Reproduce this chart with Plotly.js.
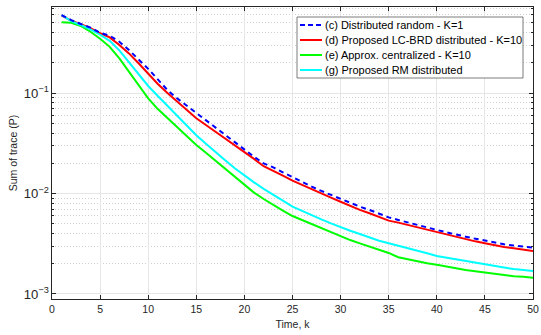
<!DOCTYPE html>
<html>
<head>
<meta charset="utf-8">
<script src="https://cdn.plot.ly/plotly-3.0.1.min.js"></script>
<style>html,body{margin:0;padding:0;background:#fff;}#chart{width:541px;height:335px;}</style>
</head>
<body>
<div id="chart"></div>
<script>
var timeK = [];
for (var i = 1; i <= 50; i++) timeK.push(i);

var distRandom = [0.597,0.532,0.486,0.447,0.398,0.372,0.324,0.268,0.216,0.174,
  0.1365,0.107,0.0885,0.0748,0.0628,0.0538,0.0452,0.0382,0.032,0.0271,
  0.0232,0.01995,0.0182,0.01626,0.01449,0.0130,0.0117,0.0106,0.00966,0.00875,
  0.00798,0.0074,0.00686,0.00625,0.00579,0.00545,0.00513,0.00486,0.00457,0.00434,
  0.00411,0.00389,0.00372,0.00355,0.00339,0.00324,0.00312,0.00303,0.00296,0.00289];

var lcbrd = [0.59,0.525,0.483,0.441,0.393,0.358,0.301,0.248,0.198,0.157,
  0.123,0.1,0.0818,0.0678,0.056,0.0481,0.0412,0.0354,0.0304,0.0261,
  0.0221,0.0187,0.01687,0.01503,0.0134,0.01216,0.01084,0.00989,0.00908,0.00828,
  0.0075,0.00686,0.00635,0.00579,0.00537,0.00513,0.00486,0.00457,0.00434,0.00411,
  0.00388,0.00366,0.0035,0.00334,0.00319,0.00305,0.00294,0.00285,0.00276,0.00268];

var approxCentral = [0.505,0.501,0.465,0.407,0.347,0.288,0.221,0.163,0.120,0.0885,
  0.0692,0.0562,0.0457,0.0372,0.0304,0.0254,0.0211,0.0176,0.0146,0.0123,
  0.0102,0.00881,0.00767,0.00676,0.00597,0.00544,0.00498,0.00451,0.00407,0.00372,
  0.00344,0.00319,0.00295,0.00274,0.00256,0.00232,0.00221,0.00211,0.00202,0.00195,
  0.00187,0.0018,0.00173,0.00168,0.00163,0.00158,0.00155,0.0015,0.00148,0.00145];

var rmDist = [0.597,0.52,0.475,0.43,0.38,0.331,0.266,0.204,0.155,0.1175,
  0.0933,0.0741,0.0589,0.0468,0.038,0.0313,0.0257,0.0214,0.0178,0.015,
  0.0129,0.0111,0.00977,0.00851,0.00741,0.00668,0.0061,0.00553,0.00505,0.00461,
  0.00426,0.00395,0.00366,0.00339,0.0032,0.00303,0.00285,0.00268,0.00254,0.00239,
  0.0023,0.00219,0.00211,0.00203,0.00198,0.0019,0.00183,0.00177,0.00173,0.00169];

var names = ['(c) Distributed random - K=1','(d) Proposed LC-BRD distributed - K=10',
  '(e) Approx. centralized - K=10','(g) Proposed RM distributed'];
var colors = ['#0000ff', '#ff0000', '#00ff00', '#00ffff'];
var dashes = ['5px,4px', 'solid', 'solid', 'solid'];
var series = [distRandom, lcbrd, approxCentral, rmDist];

// draw order: red, green, cyan, then blue dashed on top
var drawOrder = [1, 2, 3, 0];
var traces = drawOrder.map(function (s) {
  return {x: timeK, y: series[s], name: names[s], mode: 'lines',
    line: {color: colors[s], width: 2, dash: dashes[s]}, showlegend: false};
});

var fontFam = 'Liberation Sans, Arial, sans-serif';

// custom legend (paper coords of plot area: x 0..1 over 481px, y 0..1 over 292px)
var W = 481, H = 292;
function px(x) { return (x - 52) / W; }
function py(y) { return (299 - y) / H; }
var shapes = [{type: 'rect', xref: 'paper', yref: 'paper', x0: px(297), x1: px(523), y0: py(78), y1: py(17),
  fillcolor: '#ffffff', line: {color: '#5a5a5a', width: 0.8}, layer: 'above'}];
var annotations = [];
for (var j = 0; j < 4; j++) {
  var yy = 25 + 15 * j;
  shapes.push({type: 'line', xref: 'paper', yref: 'paper', x0: px(300), x1: px(322), y0: py(yy), y1: py(yy),
    line: {color: colors[j], width: 2, dash: j === 0 ? '5px,3px' : 'solid'}, layer: 'above'});
  annotations.push({xref: 'paper', yref: 'paper', x: px(323), y: py(yy), xanchor: 'left', yanchor: 'middle',
    text: names[j], showarrow: false, font: {family: fontFam, size: 11, color: '#000000'}});
}

var layout = {
  width: 541, height: 335,
  margin: {l: 52, r: 8, t: 7, b: 36},
  paper_bgcolor: '#ffffff', plot_bgcolor: '#ffffff',
  font: {family: fontFam, size: 10, color: '#262626'},
  showlegend: false,
  shapes: shapes, annotations: annotations,
  xaxis: {range: [0, 50], dtick: 5, ticks: 'inside', ticklen: 4, tickcolor: '#262626',
    showline: true, linecolor: '#262626', linewidth: 1, mirror: 'ticks',
    showgrid: true, gridcolor: '#e6e6e6', gridwidth: 1, zeroline: false,
    tickfont: {family: fontFam, size: 10.5, color: '#262626'},
    title: {text: 'Time, k', font: {family: fontFam, size: 10.5, color: '#262626'}, standoff: 7}},
  yaxis: {type: 'log', range: [-3.05, -0.144], dtick: 1, exponentformat: 'power',
    ticks: 'inside', ticklen: 4, tickcolor: '#262626',
    showline: true, linecolor: '#262626', linewidth: 1, mirror: 'ticks',
    showgrid: true, gridcolor: '#e6e6e6', gridwidth: 1, zeroline: false,
    tickfont: {family: fontFam, size: 10.5, color: '#262626'},
    minor: {ticks: 'inside', ticklen: 2, tickcolor: '#262626', showgrid: true, gridcolor: '#cfcfcf', griddash: '1px,2px', gridwidth: 1},
    title: {text: 'Sum of trace (P)', font: {family: fontFam, size: 10.5, color: '#262626'}, standoff: 4}}
};

Plotly.newPlot('chart', traces, layout, {displayModeBar: false, staticPlot: true});
</script>
</body>
</html>
